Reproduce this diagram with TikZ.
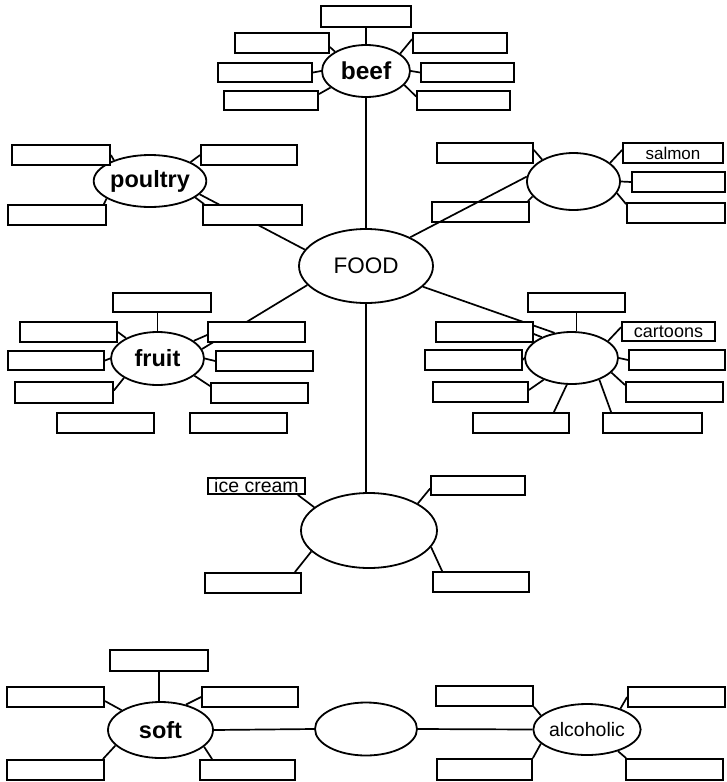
\documentclass[tikz,border=0pt]{standalone}
\usepackage{fontspec}
\setmainfont{Liberation Sans}
\usetikzlibrary{shapes.geometric,backgrounds,calc}
\tikzset{
  box/.style={draw, fill=white, line width=1.8pt, inner sep=0pt, font=\fontsize{17}{17}\selectfont},
  oval/.style={draw, fill=white, ellipse, line width=1.8pt, inner sep=0pt},
  conn/.style={line width=1.7pt},
  big/.style={font=\fontsize{23.5}{23.5}\selectfont\bfseries},
}
\newcommand\mybox[7][]{\node[box, minimum width={#5-#3}, minimum height={#6-#4}, #1] (#2) at ({(#3+#5)/2},{(#4+#6)/2}) {#7};}
\begin{document}
\begin{tikzpicture}[x=1pt,y=-1pt]
\useasboundingbox (0,0) rectangle (727,782);
% FOOD
\node[oval, minimum width=134, minimum height=74, font=\fontsize{22.5}{22.5}\selectfont] (food) at (366,266) {FOOD};
% beef
\node[oval,big, minimum width=88, minimum height=52, font=\fontsize{24.5}{24.5}\selectfont\bfseries] (beef) at (366,71) {beef};
\mybox{bT}{321}{6}{411}{27}{}
\mybox{bUL}{235}{33}{329}{53}{}
\mybox{bML}{218}{63}{312}{82}{}
\mybox{bLL}{224}{91}{318}{110}{}
\mybox{bUR}{413}{33}{507}{53}{}
\mybox{bMR}{421}{63}{514}{82}{}
\mybox{bLR}{417}{91}{510}{110}{}
% poultry
\node[oval,big,minimum width=94,minimum height=52] (poultry) at (150,181) {poultry};
\mybox{pUL}{12}{145}{110}{165}{}
\mybox{pUR}{201}{145}{297}{165}{}
\mybox{pLL}{8}{205}{106}{225}{}
\mybox{pLR}{203}{205}{302}{225}{}
% salmon cluster
\node[oval,minimum width=93,minimum height=57] (fish) at (573.5,181.5) {};
\mybox{sUL}{437}{143}{533}{163}{}
\mybox{sS}{623}{143}{723}{163}{salmon}
\mybox{sMR}{632}{172}{725}{192}{}
\mybox{sLR}{627}{203}{725}{223}{}
\mybox{sLL}{432}{202}{529}{222}{}
% fruit
\node[oval,big,minimum width=93,minimum height=53] (fruit) at (157.5,358.5) {fruit};
\mybox{fT}{113}{293}{211}{312}{}
\mybox{fUL}{20}{322}{117}{342}{}
\mybox{fML}{8}{351}{104}{370}{}
\mybox{fLL}{15}{382}{113}{403}{}
\mybox{fBL}{57}{413}{154}{433}{}
\mybox{fUR}{208}{322}{305}{342}{}
\mybox{fMR}{216}{351}{313}{371}{}
\mybox{fLR}{211}{383}{308}{403}{}
\mybox{fBR}{190}{413}{287}{433}{}
% tv cluster
\node[oval,minimum width=93,minimum height=52] (tv) at (571.5,358) {};
\mybox{cT}{528}{293}{625}{312}{}
\mybox{cUL}{436}{322}{533}{342}{}
\mybox{cML}{425}{350}{522}{370}{}
\mybox{cLL}{433}{382}{528}{402}{}
\mybox{cBL}{473}{413}{569}{433}{}
\mybox[font=\fontsize{18}{18}\selectfont]{cC}{622}{322}{715}{341}{cartoons}
\mybox{cMR}{629}{350}{725}{370}{}
\mybox{cLR}{626}{382}{723}{402}{}
\mybox{cBR}{603}{413}{702}{433}{}
% ice cream cluster
\node[oval,minimum width=136,minimum height=75] (dessert) at (369,530.5) {};
\mybox[font=\fontsize{19.5}{19.5}\selectfont]{iC}{208}{478}{305}{494}{ice cream}
\mybox{iUR}{431}{476}{525}{495}{}
\mybox{iLL}{205}{573}{301}{593}{}
\mybox{iLR}{433}{572}{529}{592}{}
% bottom
\node[oval,big,minimum width=105,minimum height=56] (soft) at (160.5,730) {soft};
\node[oval,minimum width=102,minimum height=53] (drink) at (366,729) {};
\node[oval,minimum width=104,minimum height=51, font=\fontsize{19.5}{19.5}\selectfont] (alc) at (587,729.5) {alcoholic};
\mybox{dT}{110}{650}{208}{671}{}
\mybox{dUL}{7}{687}{104}{707}{}
\mybox{dUR}{202}{687}{298}{707}{}
\mybox{dLL}{7}{760}{104}{780}{}
\mybox{dLR}{200}{760}{295}{780}{}
\mybox{aUL}{436}{686}{533}{706}{}
\mybox{aUR}{628}{687}{725}{707}{}
\mybox{aLL}{437}{759}{532}{780}{}
\mybox{aLR}{626}{759}{723}{780}{}

\begin{scope}[on background layer]
% beef
\draw[conn] (bT.south) -- (beef.north);
\draw[conn] ([yshift=-4pt]bUL.east) -- (beef.148);
\draw[conn] (bML.east) -- (beef.west);
\draw[conn] ([yshift=-4pt]bLL.north east) -- (beef.205);
\draw[conn] ([yshift=-7pt]bUR.north west) -- (beef.27);
\draw[conn] (beef.east) -- (bMR.west);
\draw[conn] ([yshift=4pt]bLR.west) -- (beef.340);
\draw[conn] (beef.south) -- (food.north);
% poultry
\draw[conn] (pUL.east) -- (poultry.150);
\draw[conn] (pUR.west) -- (poultry.25);
\draw[conn] ([xshift=-3pt]pLL.north east) -- (poultry.202);
\draw[conn] ([xshift=2pt]pLR.north west) -- (poultry.340);
\draw[conn] (food.165) -- (poultry.345);
% fish
\draw[conn] ([yshift=3pt]sUL.east) -- (fish.145);
\draw[conn] ([yshift=3pt]sS.west) -- (fish.27);
\draw[conn] (fish.east) -- (sMR.west);
\draw[conn] ([yshift=-2pt]sLR.north west) -- (fish.345);
\draw[conn] ([xshift=-2pt]sLL.north east) -- (fish.200);
% fruit
\draw[conn] (fruit.north |- fT.south) -- (fruit.north);
\draw[conn] (fUL.east) -- (fruit.147);
\draw[conn] (fML.east) -- (fruit.west);
\draw[conn] ([yshift=2pt]fLL.east) -- (fruit.210);
\draw[conn] ([yshift=-3pt]fUR.west) -- (fruit.26);
\draw[conn] (fruit.east) -- (fMR.west);
\draw[conn] ([yshift=-4pt]fLR.north west) -- (fruit.335);
\draw[conn] (food.198) -- (fruit.12);
% tv
\draw[conn] (cT.south) -- (cT.south |- tv.north);
\draw[conn] ([yshift=-2pt]cUL.east) -- (tv.145);
\draw[conn] (cML.east) -- (tv.west);
\draw[conn] ([yshift=2pt]cLL.east) -- (tv.218);
\draw[conn] ([xshift=-16pt]cBL.north east) -- (tv.260);
\draw[conn] ([xshift=9pt]cBR.north west) -- (tv.322);
\draw[conn] ([yshift=-6pt]cC.north west) -- (tv.25);
\draw[conn] (tv.east) -- (cMR.west);
\draw[conn] ([yshift=-4pt]cLR.north west) -- (tv.340);
\draw[conn] (food.340) -- (tv.124);
% dessert
\draw[conn] (food.south) -- (food.south |- dessert.north);
\draw[conn] ([xshift=-8pt]iC.south east) -- (dessert.157);
\draw[conn] ([yshift=-3pt]iUR.west) -- (dessert.29);
\draw[conn] ([xshift=-7pt]iLL.north east) -- (dessert.200);
\draw[conn] ([xshift=10pt]iLR.north west) -- (dessert.345);
% bottom
\draw[conn] (dT.south) -- (dT.south |- soft.north);
\draw[conn] ([yshift=-4pt]dUL.east) -- (soft.153);
\draw[conn] (dUR.west) -- (soft.45);
\draw[conn] ([xshift=-2pt]dLL.north east) -- (soft.199);
\draw[conn] ([xshift=13pt]dLR.north west) -- (soft.339);
\draw[conn] (soft.east) -- (drink.west);
\draw[conn] (drink.east) -- (alc.west);
\draw[conn] (aUL.south east) -- (alc.163);
\draw[conn] (aUR.west) -- (alc.32);
\draw[conn] (aLL.north east) -- (alc.197);
\draw[conn] ([xshift=1pt]aLR.north west) -- (alc.325);
\end{scope}
% line crossing over the box
\draw[conn] (food.33) -- (fish.174);
\end{tikzpicture}
\end{document}
